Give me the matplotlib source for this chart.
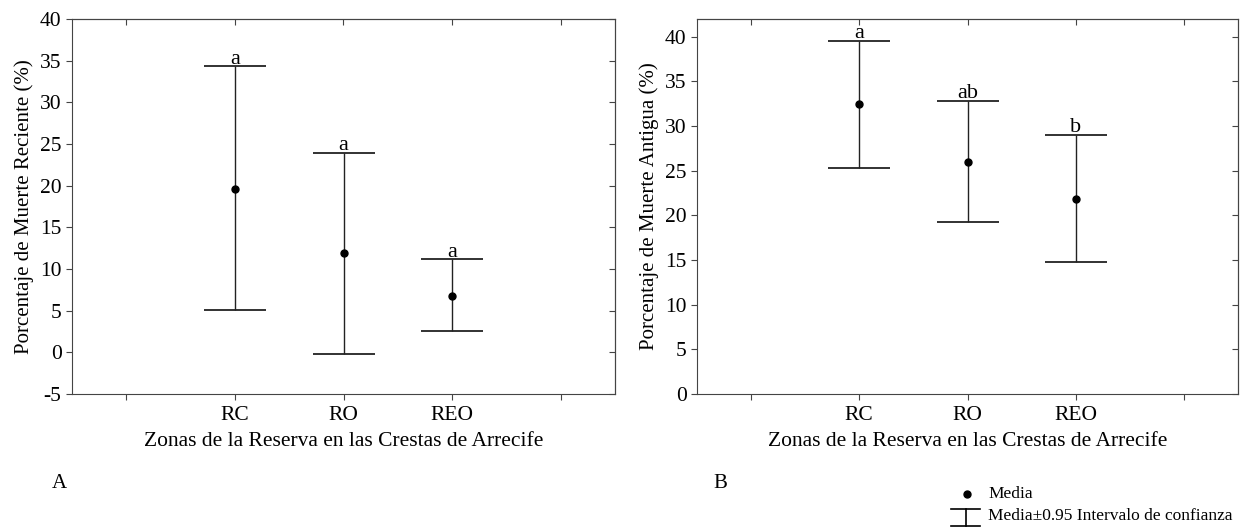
import matplotlib.pyplot as plt
from matplotlib.lines import Line2D

plt.rcParams['font.family'] = ['Liberation Serif', 'DejaVu Serif']
plt.rcParams['axes.unicode_minus'] = False

zonas = ['RC', 'RO', 'REO']

# Muerte reciente (A)
rec_media = [19.65, 11.9, 6.8]
rec_sup = [34.3, 23.95, 11.15]
rec_inf = [5.1, -0.25, 2.6]
rec_letras = ['a', 'a', 'a']

# Muerte antigua (B)
ant_media = [32.45, 26.0, 21.85]
ant_sup = [39.55, 32.8, 29.0]
ant_inf = [25.35, 19.25, 14.75]
ant_letras = ['a', 'ab', 'b']

fig = plt.figure(figsize=(12.44, 5.27), dpi=100)
axA = fig.add_axes([72 / 1244, 0.2524, 543 / 1244, 0.7116])
axB = fig.add_axes([697 / 1244, 0.2524, 541 / 1244, 0.7116])


def panel(ax, media, sup, inf, letras, ylim, yticks, ylabel):
    x = list(range(1, len(media) + 1))
    err = [[m - l for m, l in zip(media, inf)], [s - m for s, m in zip(sup, media)]]
    ax.errorbar(x, media, yerr=err, fmt='o', color='black', ms=5,
                ecolor='#222222', elinewidth=1, capsize=22, capthick=1.3)
    for xi, s, t in zip(x, sup, letras):
        ax.annotate(t, (xi, s), xytext=(0, 2), textcoords='offset points',
                    ha='center', va='baseline', fontsize=16)
    ax.set_xlim(-0.5, 4.5)
    ax.set_ylim(*ylim)
    ticks = [0, 1, 2, 3, 4]
    ax.set_xticks(ticks, ['', *zonas, ''])
    ax.set_yticks(yticks)
    ax.tick_params(direction='out', length=4, labelsize=15.5, color='#444444')
    ax.tick_params(axis='x', pad=5)
    ax.set_xlabel('Zonas de la Reserva en las Crestas de Arrecife', fontsize=15.5, labelpad=5)
    ax.set_ylabel(ylabel, fontsize=15, labelpad=4)
    top = ax.secondary_xaxis('top')
    top.set_xticks(ticks, [])
    top.tick_params(direction='in', length=4, color='#444444')
    right = ax.secondary_yaxis('right')
    right.set_yticks(yticks, [])
    right.tick_params(direction='in', length=4, color='#444444')
    for a in (ax, top, right):
        for sp in a.spines.values():
            sp.set_color('#444444')


panel(axA, rec_media, rec_sup, rec_inf, rec_letras, (-5, 40),
      range(-5, 41, 5), 'Porcentaje de Muerte Reciente (%)')
panel(axB, ant_media, ant_sup, ant_inf, ant_letras, (0, 42),
      range(0, 41, 5), 'Porcentaje de Muerte Antigua (%)')

fig.text(59 / 1244, 1 - 483 / 527, 'A', fontsize=15, ha='center', va='center')
fig.text(720 / 1244, 1 - 483 / 527, 'B', fontsize=15, ha='center', va='center')

# leyenda
fig.add_artist(Line2D([967 / 1244], [1 - 494 / 527], marker='o', color='black', ms=5, ls='none'))
fig.add_artist(Line2D([951 / 1244, 980 / 1244], [1 - 509 / 527] * 2, color='black', lw=1.2))
fig.add_artist(Line2D([966 / 1244] * 2, [1 - 509 / 527, 1 - 526 / 527], color='black', lw=1.2))
fig.add_artist(Line2D([951 / 1244, 980 / 1244], [1 - 526 / 527] * 2, color='black', lw=1.2))
fig.text(988 / 1244, 1 - 494 / 527, 'Media', fontsize=12.5, va='center')
fig.text(988 / 1244, 1 - 516 / 527, 'Media±0.95 Intervalo de confianza', fontsize=12.5, va='center')

fig.savefig('out.png', dpi=100)
